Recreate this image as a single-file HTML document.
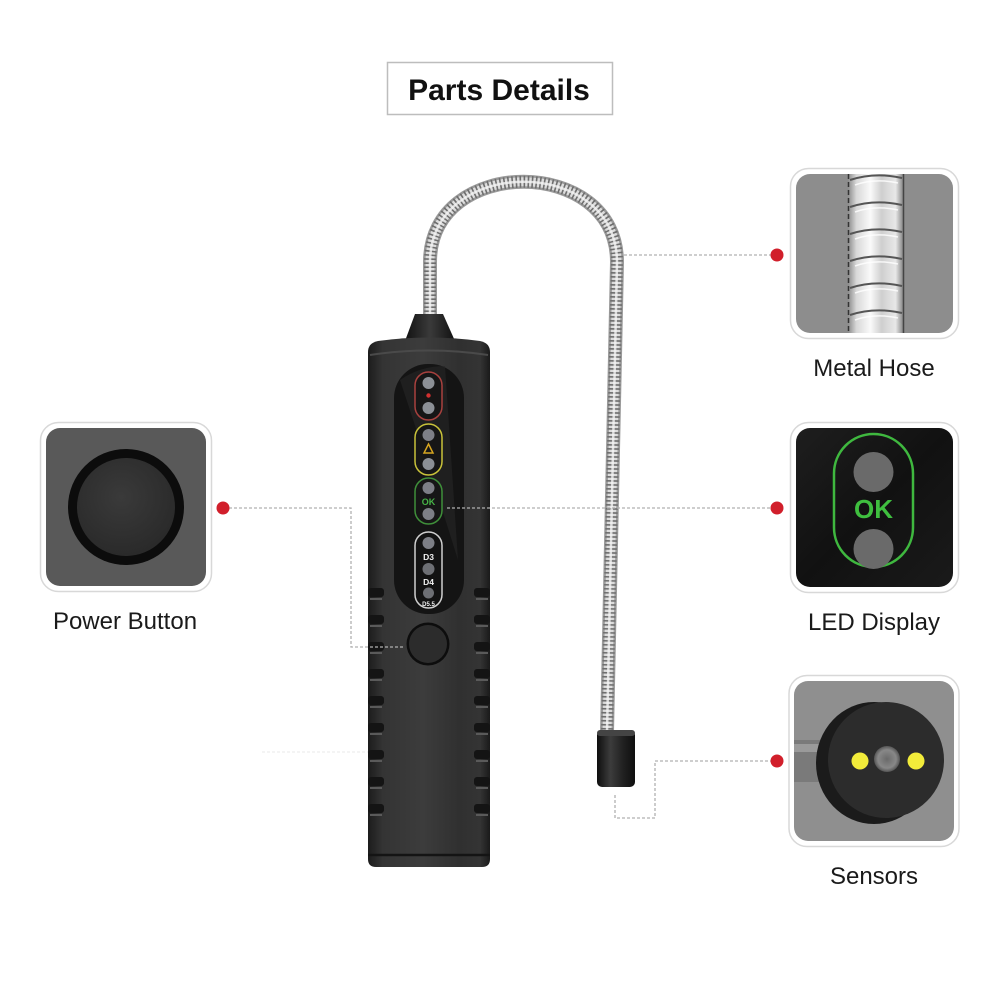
<!DOCTYPE html>
<html>
<head>
<meta charset="utf-8">
<style>
  html,body{margin:0;padding:0;background:#fff;}
  body{width:1000px;height:1000px;overflow:hidden;}
  svg{display:block;}
  text{font-family:"Liberation Sans",Arial,sans-serif;}
</style>
</head>
<body>
<svg width="1000" height="1000" viewBox="0 0 1000 1000" xmlns="http://www.w3.org/2000/svg">
  <defs>
    <linearGradient id="bodyG" x1="0" y1="0" x2="1" y2="0">
      <stop offset="0" stop-color="#1c1c1c"/>
      <stop offset="0.12" stop-color="#343434"/>
      <stop offset="0.45" stop-color="#3c3c3c"/>
      <stop offset="0.75" stop-color="#303030"/>
      <stop offset="0.92" stop-color="#343434"/>
      <stop offset="1" stop-color="#1a1a1a"/>
    </linearGradient>
    <linearGradient id="nozG" x1="0" y1="0" x2="1" y2="0">
      <stop offset="0" stop-color="#111"/>
      <stop offset="0.5" stop-color="#3a3a3a"/>
      <stop offset="1" stop-color="#111"/>
    </linearGradient>
    <linearGradient id="coilG" x1="0" y1="0" x2="1" y2="0">
      <stop offset="0" stop-color="#8a8a8a"/>
      <stop offset="0.15" stop-color="#d8d8d8"/>
      <stop offset="0.4" stop-color="#fafafa"/>
      <stop offset="0.6" stop-color="#cfcfcf"/>
      <stop offset="0.85" stop-color="#e8e8e8"/>
      <stop offset="1" stop-color="#7a7a7a"/>
    </linearGradient>
    <linearGradient id="capG" x1="0" y1="0" x2="1" y2="0">
      <stop offset="0" stop-color="#0e0e0e"/>
      <stop offset="0.35" stop-color="#3c3c3c"/>
      <stop offset="0.7" stop-color="#202020"/>
      <stop offset="1" stop-color="#0e0e0e"/>
    </linearGradient>
    <linearGradient id="ledBg" x1="0" y1="0" x2="1" y2="1">
      <stop offset="0" stop-color="#1e1e1e"/>
      <stop offset="0.5" stop-color="#111"/>
      <stop offset="1" stop-color="#1a1a1a"/>
    </linearGradient>
    <radialGradient id="btnG" cx="0.45" cy="0.4" r="0.6">
      <stop offset="0" stop-color="#3a3a3a"/>
      <stop offset="1" stop-color="#2a2a2a"/>
    </radialGradient>
    <radialGradient id="lensG" cx="0.5" cy="0.5" r="0.5">
      <stop offset="0" stop-color="#6a6a6a"/>
      <stop offset="0.7" stop-color="#888"/>
      <stop offset="1" stop-color="#555"/>
    </radialGradient>
    <clipPath id="clipHose"><rect x="796" y="174" width="157" height="159" rx="14"/></clipPath>
    <clipPath id="clipSens"><rect x="794" y="681" width="160" height="160" rx="14"/></clipPath>
  </defs>

  <!-- Title -->
  <rect x="387.5" y="62.5" width="225" height="52" fill="#fff" stroke="#bdbdbd" stroke-width="1.5"/>
  <text x="499" y="100" font-size="30" font-weight="bold" text-anchor="middle" fill="#111">Parts Details</text>

  <!-- Hose -->
  <path d="M430,320 L430,262 C430,155 617,155 617,262 L607,732" fill="none" stroke="#9a9a9a" stroke-width="14" stroke-linejoin="round"/>
  <path d="M430,320 L430,262 C430,155 617,155 617,262 L607,732" fill="none" stroke="#dcdcdc" stroke-width="9"/>
  <path d="M430,320 L430,262 C430,155 617,155 617,262 L607,732" fill="none" stroke="#6e6e6e" stroke-width="12" stroke-dasharray="1.6 2.4"/>
  <path d="M430,320 L430,262 C430,155 617,155 617,262 L607,732" fill="none" stroke="#f4f4f4" stroke-width="2.5" opacity="0.8"/>

  <!-- Sensor cap -->
  <rect x="597" y="730" width="38" height="57" rx="5" fill="url(#capG)"/>
  <rect x="597" y="730" width="38" height="6" rx="3" fill="#444"/>

  <!-- Device nozzle -->
  <path d="M415,314 L443,314 L455,341 L405,341 Z" fill="url(#nozG)"/>
  <!-- Device body -->
  <path d="M368,352 Q368,343 378,341 Q429,334 480,341 Q490,343 490,352 L490,859 Q490,867 482,867 L376,867 Q368,867 368,859 Z" fill="url(#bodyG)"/>
  <path d="M370,355 Q429,346 488,355" fill="none" stroke="#4a4a4a" stroke-width="2"/>
  <!-- grooves -->
  <g>
    <g fill="#141414">
      <rect x="368" y="588" width="16" height="9" rx="3"/><rect x="474" y="588" width="16" height="9" rx="3"/>
      <rect x="368" y="615" width="16" height="9" rx="3"/><rect x="474" y="615" width="16" height="9" rx="3"/>
      <rect x="368" y="642" width="16" height="9" rx="3"/><rect x="474" y="642" width="16" height="9" rx="3"/>
      <rect x="368" y="669" width="16" height="9" rx="3"/><rect x="474" y="669" width="16" height="9" rx="3"/>
      <rect x="368" y="696" width="16" height="9" rx="3"/><rect x="474" y="696" width="16" height="9" rx="3"/>
      <rect x="368" y="723" width="16" height="9" rx="3"/><rect x="474" y="723" width="16" height="9" rx="3"/>
      <rect x="368" y="750" width="16" height="9" rx="3"/><rect x="474" y="750" width="16" height="9" rx="3"/>
      <rect x="368" y="777" width="16" height="9" rx="3"/><rect x="474" y="777" width="16" height="9" rx="3"/>
      <rect x="368" y="804" width="16" height="9" rx="3"/><rect x="474" y="804" width="16" height="9" rx="3"/>
    </g>
    <g fill="#5a5a5a">
      <rect x="370" y="598" width="12" height="2"/><rect x="476" y="598" width="12" height="2"/>
      <rect x="370" y="625" width="12" height="2"/><rect x="476" y="625" width="12" height="2"/>
      <rect x="370" y="652" width="12" height="2"/><rect x="476" y="652" width="12" height="2"/>
      <rect x="370" y="679" width="12" height="2"/><rect x="476" y="679" width="12" height="2"/>
      <rect x="370" y="706" width="12" height="2"/><rect x="476" y="706" width="12" height="2"/>
      <rect x="370" y="733" width="12" height="2"/><rect x="476" y="733" width="12" height="2"/>
      <rect x="370" y="760" width="12" height="2"/><rect x="476" y="760" width="12" height="2"/>
      <rect x="370" y="787" width="12" height="2"/><rect x="476" y="787" width="12" height="2"/>
      <rect x="370" y="814" width="12" height="2"/><rect x="476" y="814" width="12" height="2"/>
    </g>
  </g>
  <line x1="368" y1="855" x2="490" y2="855" stroke="#141414" stroke-width="2.5"/>

  <!-- Display panel -->
  <rect x="394" y="364" width="70" height="250" rx="34" fill="#141414"/>
  <path d="M400,380 Q420,366 445,366 L458,560 Q430,470 400,380 Z" fill="#262626" opacity="0.6"/>

  <!-- Red group -->
  <rect x="415" y="372" width="27" height="48" rx="13.5" fill="#161616" stroke="#a8413e" stroke-width="1.5"/>
  <circle cx="428.5" cy="383" r="6" fill="#8c9096"/>
  <circle cx="428.5" cy="395.5" r="2.2" fill="#d23030"/>
  <circle cx="428.5" cy="408" r="6" fill="#8c9096"/>
  <!-- Yellow group -->
  <rect x="415" y="424" width="27" height="51" rx="13.5" fill="#161616" stroke="#c9c23a" stroke-width="1.5"/>
  <circle cx="428.5" cy="435" r="6" fill="#7d7f86"/>
  <path d="M428.5,444 L433,453 L424,453 Z" fill="none" stroke="#d6a520" stroke-width="1.5"/>
  <circle cx="428.5" cy="464" r="6" fill="#8c9096"/>
  <!-- Green group -->
  <rect x="415" y="478" width="27" height="46" rx="13.5" fill="#161616" stroke="#3f8f3a" stroke-width="1.5"/>
  <circle cx="428.5" cy="488" r="6" fill="#7d7f86"/>
  <text x="428.5" y="505" font-size="9" font-weight="bold" text-anchor="middle" fill="#47b347">OK</text>
  <circle cx="428.5" cy="514" r="6" fill="#7d7f86"/>
  <!-- White group -->
  <rect x="415" y="532" width="27" height="76" rx="13.5" fill="#121212" stroke="#cfcfcf" stroke-width="1.5"/>
  <circle cx="428.5" cy="543" r="6" fill="#7d7f86"/>
  <text x="428.5" y="560" font-size="8.5" font-weight="bold" text-anchor="middle" fill="#f0f0f0">D3</text>
  <circle cx="428.5" cy="569" r="6" fill="#6d6f74"/>
  <text x="428.5" y="585" font-size="8.5" font-weight="bold" text-anchor="middle" fill="#f0f0f0">D4</text>
  <circle cx="428.5" cy="593" r="5.5" fill="#6d6f74"/>
  <text x="428.5" y="606" font-size="6" font-weight="bold" text-anchor="middle" fill="#f0f0f0">D5.5</text>

  <!-- Power button on device -->
  <circle cx="428" cy="644" r="21.5" fill="#0d0d0d"/>
  <circle cx="428" cy="644" r="19" fill="#2c2c2c"/>

  <!-- Connector lines (dashed), drawn on top -->
  <g fill="none" stroke="#b0b0b0" stroke-width="1.3" stroke-dasharray="3 2">
    <polyline points="229,508 351,508 351,647 405,647"/>
    <polyline points="447,508 771,508"/>
    <polyline points="624,255 771,255"/>
    <polyline points="615,795 615,818 655,818 655,761 771,761"/>
  </g>
  <line x1="262" y1="752" x2="368" y2="752" stroke="#e6e6e6" stroke-width="1.2" stroke-dasharray="3 2" opacity="0.7"/>

  <!-- Red dots -->
  <g fill="#d11f2b">
    <circle cx="223" cy="508" r="6.5"/>
    <circle cx="777" cy="255" r="6.5"/>
    <circle cx="777" cy="508" r="6.5"/>
    <circle cx="777" cy="761" r="6.5"/>
  </g>

  <!-- Power Button panel -->
  <rect x="40.5" y="422.5" width="171" height="169" rx="18" fill="#fff" stroke="#d8d8d8" stroke-width="1.5"/>
  <rect x="46" y="428" width="160" height="158" rx="14" fill="#595959"/>
  <circle cx="126" cy="507" r="58" fill="#0c0c0c"/>
  <circle cx="126" cy="507" r="49" fill="url(#btnG)"/>
  <text x="125" y="629" font-size="24" text-anchor="middle" fill="#1a1a1a">Power Button</text>

  <!-- Metal Hose panel -->
  <rect x="790.5" y="168.5" width="168" height="170" rx="18" fill="#fff" stroke="#d8d8d8" stroke-width="1.5"/>
  <g clip-path="url(#clipHose)">
    <rect x="796" y="174" width="157" height="159" fill="#8d8d8d"/>
    <rect x="848" y="174" width="56" height="159" fill="url(#coilG)"/>
    <g stroke="#555" stroke-width="2" fill="none">
      <path d="M850,180 Q875,172 902,178"/>
      <path d="M850,207 Q875,199 902,205"/>
      <path d="M850,234 Q875,226 902,232"/>
      <path d="M850,261 Q875,253 902,259"/>
      <path d="M850,288 Q875,280 902,286"/>
      <path d="M850,315 Q875,307 902,313"/>
    </g>
    <g stroke="#fff" stroke-width="1.5" fill="none" opacity="0.8">
      <path d="M855,185 Q875,178 898,183"/>
      <path d="M855,212 Q875,205 898,210"/>
      <path d="M855,239 Q875,232 898,237"/>
      <path d="M855,266 Q875,259 898,264"/>
      <path d="M855,293 Q875,286 898,291"/>
      <path d="M855,320 Q875,313 898,318"/>
    </g>
    <line x1="848.5" y1="174" x2="848.5" y2="333" stroke="#333" stroke-width="1.5" stroke-dasharray="5 3"/>
    <line x1="903.5" y1="174" x2="903.5" y2="333" stroke="#444" stroke-width="1.5"/>
  </g>
  <text x="874" y="376" font-size="24" text-anchor="middle" fill="#1a1a1a">Metal Hose</text>

  <!-- LED Display panel -->
  <rect x="790.5" y="422.5" width="168" height="170" rx="18" fill="#fff" stroke="#d8d8d8" stroke-width="1.5"/>
  <rect x="796" y="428" width="157" height="159" rx="14" fill="url(#ledBg)"/>
  <rect x="834" y="434" width="79" height="133" rx="39.5" fill="none" stroke="#3fb83f" stroke-width="2.5"/>
  <circle cx="873.5" cy="472" r="20" fill="#6a6a6a"/>
  <circle cx="873.5" cy="549" r="20" fill="#6a6a6a"/>
  <text x="873.5" y="518" font-size="26" font-weight="bold" text-anchor="middle" fill="#3fbf3f">OK</text>
  <text x="874" y="630" font-size="24" text-anchor="middle" fill="#1a1a1a">LED Display</text>

  <!-- Sensors panel -->
  <rect x="789" y="675.5" width="170" height="171" rx="18" fill="#fff" stroke="#d8d8d8" stroke-width="1.5"/>
  <g clip-path="url(#clipSens)">
    <rect x="794" y="681" width="160" height="160" fill="#8f8f8f"/>
    <rect x="794" y="740" width="36" height="42" fill="#7a7a7a"/>
    <rect x="794" y="744" width="36" height="8" fill="#9a9a9a"/>
    <ellipse cx="874" cy="763" rx="58" ry="61" fill="#1b1b1b"/>
    <circle cx="886" cy="760" r="58" fill="#2c2c2c"/>
    <circle cx="860" cy="761" r="8.5" fill="#f2ec3a"/>
    <circle cx="916" cy="761" r="8.5" fill="#f2ec3a"/>
    <circle cx="887" cy="759" r="13" fill="url(#lensG)"/>
  </g>
  <text x="874" y="884" font-size="24" text-anchor="middle" fill="#1a1a1a">Sensors</text>
</svg>
</body>
</html>
